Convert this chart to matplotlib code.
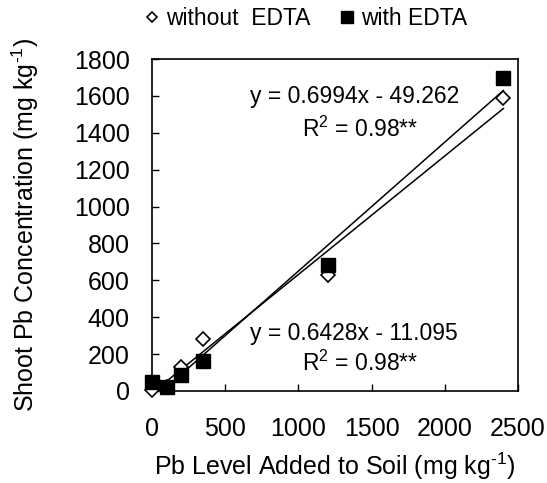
import numpy as np
import matplotlib
matplotlib.use("Agg")
import matplotlib.pyplot as plt
from matplotlib.lines import Line2D

plt.rcParams['font.family'] = ['Liberation Sans', 'DejaVu Sans']
plt.rcParams['mathtext.fontset'] = 'custom'
plt.rcParams['mathtext.rm'] = 'Liberation Sans'
plt.rcParams['mathtext.it'] = 'Liberation Sans:italic'
plt.rcParams['mathtext.default'] = 'regular'

# Pb added to soil (mg/kg)
pb_added = [0, 100, 200, 350, 1200, 2400]
# shoot Pb
shoot_no_edta = [5, 20, 128, 282, 630, 1587]
shoot_edta = [49, 23, 85, 163, 685, 1696]

# trendlines as printed on the chart
fit_no_edta = (0.6428, -11.095)
fit_edta = (0.6994, -49.262)

FS = 16.5   # legend / equations
FS_AX = 18  # ticks and axis titles

fig = plt.figure(figsize=(5.47, 4.83), dpi=100)
ax = fig.add_axes([0.2779, 0.1905, 0.6691, 0.6873])

xl = np.array([0, 2400])
ax.plot(xl, fit_edta[0] * xl + fit_edta[1], color='black', lw=1.1, zorder=2)
ax.plot(xl, fit_no_edta[0] * xl + fit_no_edta[1], color='black', lw=1.1, zorder=2)

ax.plot(pb_added, shoot_no_edta, linestyle='none', marker='D', ms=7,
        mfc='white', mec='black', mew=1.2, zorder=3, clip_on=False)
ax.plot(pb_added, shoot_edta, linestyle='none', marker='s', ms=9.5,
        mfc='black', mec='black', zorder=4, clip_on=False)

ax.set_xlim(0, 2500)
ax.set_ylim(0, 1800)
ax.set_xticks([0, 500, 1000, 1500, 2000, 2500])
ax.set_yticks(np.arange(0, 1801, 200))
ax.tick_params(direction='in', length=5, width=1, labelsize=FS_AX)
ax.tick_params(axis='y', pad=16)
ax.tick_params(axis='x', pad=19)
for s in ax.spines.values():
    s.set_linewidth(1.2)

ax.set_xlabel('Pb Level Added to Soil (mg kg$^{\\text{-1}}$)', fontsize=FS_AX, labelpad=7)
ax.set_ylabel('Shoot Pb Concentration (mg kg$^{\\text{-1}}$)', fontsize=FS_AX, labelpad=24)

ax.text(0.268, 0.887, 'y = 0.6994x - 49.262', transform=ax.transAxes,
        fontsize=FS, va='center', ha='left')
ax.text(0.41, 0.787, 'R$^2$ = 0.98**', transform=ax.transAxes,
        fontsize=FS, va='center', ha='left')
ax.text(0.268, 0.172, 'y = 0.6428x - 11.095', transform=ax.transAxes,
        fontsize=FS, va='center', ha='left')
ax.text(0.41, 0.082, 'R$^2$ = 0.98**', transform=ax.transAxes,
        fontsize=FS, va='center', ha='left')

handles = [
    Line2D([], [], linestyle='none', marker='D', ms=5.5, mfc='white',
           mec='black', mew=1.2, label='without  EDTA'),
    Line2D([], [], linestyle='none', marker='s', ms=8, mfc='black',
           mec='black', label='with EDTA'),
]
fig.legend(handles=handles, loc='center', bbox_to_anchor=(0.56, 0.962),
           ncol=2, frameon=False, fontsize=FS, handlelength=0.6,
           handletextpad=0.3, columnspacing=1.3)

fig.savefig('out.png', dpi=100)
